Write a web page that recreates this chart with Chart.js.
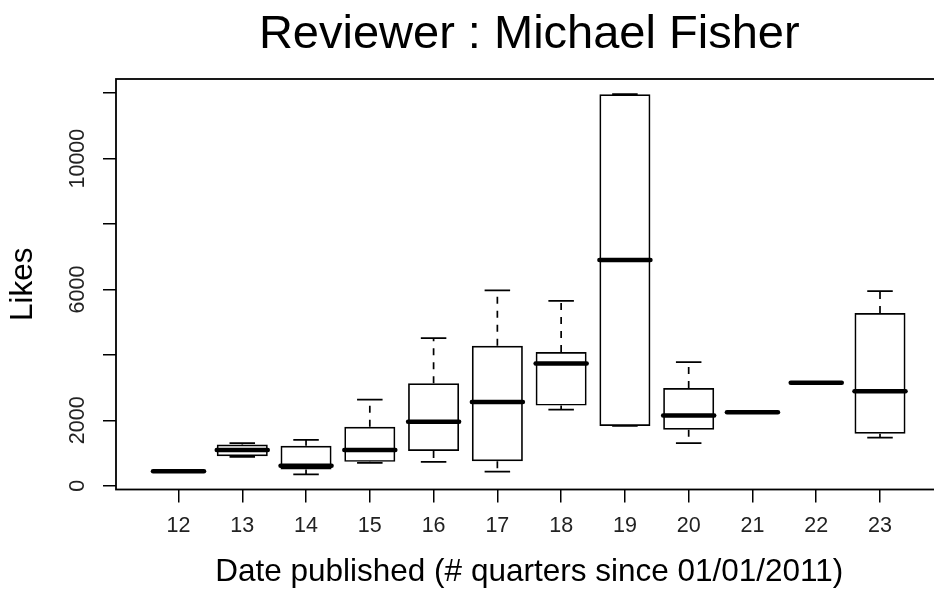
<!DOCTYPE html>
<html>
<head>
<meta charset="utf-8">
<title>Reviewer : Michael Fisher</title>
<script src="https://cdn.jsdelivr.net/npm/chart.js@4.4.1/dist/chart.umd.min.js"></script>
<style>
  html, body { margin: 0; padding: 0; background: #fff; overflow: hidden; }
  #wrap { width: 950px; height: 592px; }
</style>
</head>
<body>
<div id="wrap"><canvas id="boxChart" width="950" height="592"></canvas></div>
<script>
// quarters since 01/01/2011 and the five box statistics per quarter (likes)
const quarters = [12, 13, 14, 15, 16, 17, 18, 19, 20, 21, 22, 23];
const lowerWhisker = [440, 880, 350, 700, 730, 430, 2330, 1830, 1300, 2250, 3150, 1470];
const lowerQuartile = [440, 900, 500, 730, 1060, 750, 2450, 1830, 1710, 2250, 3150, 1590];
const medians = [440, 1090, 610, 1090, 1960, 2560, 3740, 6900, 2150, 2250, 3150, 2890];
const upperQuartile = [440, 1260, 1220, 1800, 3130, 4280, 4090, 11970, 2990, 2250, 3150, 5280];
const upperWhisker = [440, 1300, 1400, 2630, 4510, 5970, 5650, 11970, 3780, 2250, 3150, 5950];
const yTickValues = [0, 2000, 4000, 6000, 8000, 10000, 12000];
const yTicksShown = [0, 2000, 6000, 10000];

// R style axis limits: data range widened by 4% on each side
const yLo = Math.min(...lowerWhisker), yHi = Math.max(...upperWhisker);
const yPad = (yHi - yLo) * 0.04;
const xPad = quarters.length * 0.04;

const boxParts = {
  id: "boxParts",
  afterDatasetsDraw(chart) {
    const ctx = chart.ctx;
    const x = chart.scales.x, y = chart.scales.y;
    const bars = chart.getDatasetMeta(0).data;
    ctx.save();
    ctx.strokeStyle = "#000";
    quarters.forEach((q, i) => {
      const cx = x.getPixelForValue(q);
      const half = bars[i].width / 2;
      const staple = half / 2;
      // dashed whiskers
      ctx.lineWidth = 1.7;
      ctx.setLineDash([7, 7]);
      ctx.beginPath();
      ctx.moveTo(cx, y.getPixelForValue(upperQuartile[i]));
      ctx.lineTo(cx, y.getPixelForValue(upperWhisker[i]));
      ctx.moveTo(cx, y.getPixelForValue(lowerQuartile[i]));
      ctx.lineTo(cx, y.getPixelForValue(lowerWhisker[i]));
      ctx.stroke();
      // staples
      ctx.setLineDash([]);
      ctx.beginPath();
      [upperWhisker[i], lowerWhisker[i]].forEach(v => {
        const py = y.getPixelForValue(v);
        ctx.moveTo(cx - staple, py);
        ctx.lineTo(cx + staple, py);
      });
      ctx.stroke();
      // median
      ctx.lineWidth = 4.5;
      ctx.lineCap = "round";
      ctx.beginPath();
      const my = y.getPixelForValue(medians[i]);
      ctx.moveTo(cx - half, my);
      ctx.lineTo(cx + half, my);
      ctx.stroke();
      ctx.lineCap = "butt";
    });
    ctx.restore();
  },
  afterDraw(chart) {
    const a = chart.chartArea;
    const ctx = chart.ctx;
    ctx.save();
    ctx.strokeStyle = "#000";
    ctx.lineWidth = 1.8;
    ctx.strokeRect(a.left, a.top, a.right - a.left, a.bottom - a.top);
    ctx.restore();
  }
};

new Chart(document.getElementById("boxChart"), {
  type: "bar",
  data: {
    datasets: [{
      data: quarters.map((q, i) => ({ x: q, y: [lowerQuartile[i], upperQuartile[i]] })),
      backgroundColor: "rgba(255,255,255,0)",
      borderColor: "#000",
      borderWidth: 1.7,
      borderSkipped: false,
      categoryPercentage: 1,
      barPercentage: 0.8
    }]
  },
  options: {
    responsive: false,
    animation: false,
    devicePixelRatio: 1,
    layout: { padding: { left: 0, right: 7.5, top: 0, bottom: 0 } },
    plugins: {
      legend: { display: false },
      tooltip: { enabled: false },
      title: {
        display: true,
        text: "Reviewer : Michael Fisher",
        color: "#000",
        fullSize: false,
        font: { family: "Liberation Sans", size: 47, weight: "normal", lineHeight: 1 },
        padding: { top: 12, bottom: 20 }
      }
    },
    scales: {
      x: {
        type: "linear",
        offset: false,
        min: quarters[0] - 0.5 - xPad,
        max: quarters[quarters.length - 1] + 0.5 + xPad,
        afterBuildTicks: s => { s.ticks = quarters.map(v => ({ value: v })); },
        afterFit: s => { s.height = 102.5; },
        border: { display: false },
        grid: { offset: false, drawOnChartArea: false, drawTicks: true, tickLength: 13, color: "#000", lineWidth: 1.5 },
        ticks: {
          autoSkip: false, maxRotation: 0,
          color: "#222", padding: 11,
          font: { family: "Liberation Sans", size: 21.5 }
        },
        title: {
          display: true,
          text: "Date published (# quarters since 01/01/2011)",
          color: "#000",
          font: { family: "Liberation Sans", size: 31.5 },
          padding: { top: 0, bottom: 1 }
        }
      },
      y: {
        min: yLo - yPad,
        max: yHi + yPad,
        afterBuildTicks: s => { s.ticks = yTickValues.map(v => ({ value: v })); },
        afterFit: s => { s.width = 116; },
        border: { display: false },
        grid: { drawOnChartArea: false, drawTicks: true, tickLength: 13, color: "#000", lineWidth: 1.5 },
        ticks: {
          autoSkip: false,
          minRotation: 90, maxRotation: 90, crossAlign: "center",
          color: "#222", padding: -5,
          font: { family: "Liberation Sans", size: 21.5 },
          callback: v => (yTicksShown.includes(v) ? String(v) : "")
        },
        title: {
          display: true,
          text: "Likes",
          color: "#000",
          font: { family: "Liberation Sans", size: 31.5 },
          padding: { top: 4, bottom: 0 }
        }
      }
    }
  },
  plugins: [boxParts]
});
</script>
</body>
</html>
